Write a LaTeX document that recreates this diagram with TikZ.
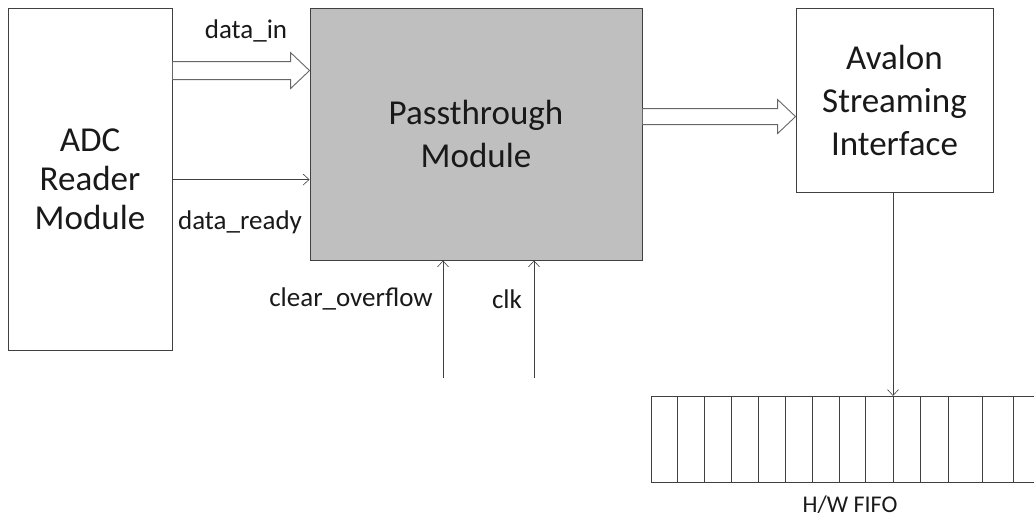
\documentclass[tikz,border=0pt]{standalone}
\usepackage{fontspec}
\setmainfont{Carlito}
\usetikzlibrary{arrows.meta,calc}
\definecolor{passgray}{HTML}{BFBFBF}
\definecolor{linecol}{HTML}{404040}
\begin{document}
\begin{tikzpicture}[x=1pt,y=-1pt,
  box/.style={draw=linecol,line width=0.9pt,align=center,inner sep=0pt,text=black!90},
  sig/.style={draw=linecol,line width=0.8pt,-{Straight Barb[length=6pt,width=11pt,line width=0.6pt]}},
  hollow/.style={draw=linecol!80,line width=0.9pt,fill=white},
  lab/.style={font=\fontsize{27}{32}\selectfont,text=black!90,inner sep=0pt}]
\useasboundingbox (0,0) rectangle (1034,520);
\node[box,minimum width=164pt,minimum height=342pt,font=\fontsize{35}{39}\selectfont] (adc) at (90,179) {ADC\\Reader\\Module};
\node[box,fill=passgray,minimum width=332pt,minimum height=252pt,font=\fontsize{35}{43}\selectfont] (pass) at (476,134) {Passthrough\\Module};
\node[box,minimum width=197pt,minimum height=184pt,font=\fontsize{35}{43}\selectfont] (aval) at (894.5,100) {Avalon\\Streaming\\Interface};
% hollow arrow data_in
\draw[hollow] ($(adc.north east)+(0,54)$) -- ($(pass.north west)+(-19,54)$) -- ($(pass.north west)+(-19,45)$) -- ($(pass.north west)+(0,63)$) -- ($(pass.north west)+(-19,81)$) -- ($(pass.north west)+(-19,72)$) -- ($(adc.north east)+(0,72)$) -- cycle;
% hollow arrow to avalon
\draw[hollow] ($(pass.north east)+(0,101)$) -- ($(aval.north west)+(-18,101)$) -- ($(aval.north west)+(-18,92)$) -- ($(aval.north west)+(0,109)$) -- ($(aval.north west)+(-18,126)$) -- ($(aval.north west)+(-18,117)$) -- ($(pass.north east)+(0,117)$) -- cycle;
% data_ready
\draw[sig] ($(adc.north east)+(0,172)$) -- ($(pass.north west)+(0,172)$);
\node[lab] (lin) at (246,31) {data\_in};
\node[lab] (lrdy) at (240,222) {data\_ready};
% bottom inputs
\coordinate (co) at (443,378);
\coordinate (ck) at (534,378);
\draw[sig] (co) -- (co |- pass.south);
\draw[sig] (ck) -- (ck |- pass.south);
\node[lab] (lco) at (351,299) {clear\_overflow};
\node[lab] (lck) at (507,299) {clk};
% FIFO
\coordinate (fifotop) at (893,396);
\draw[linecol,line width=0.9pt] (1034,396) -- (651,396) -- (651,482) -- (1034,482);
\foreach \x in {677.7,704.7,731.7,758.7,785.7,812.7,839.7,865.3,893.7,920.7,948.7,982,1013.7}
  \draw[linecol,line width=0.9pt] (\x,396) -- (\x,482);
\draw[sig] (aval.south -| fifotop) -- (fifotop);
\node[font=\fontsize{24}{29}\selectfont,text=black!90,inner sep=0pt] (lfifo) at (850,505) {H/W FIFO};
\end{tikzpicture}
\end{document}
